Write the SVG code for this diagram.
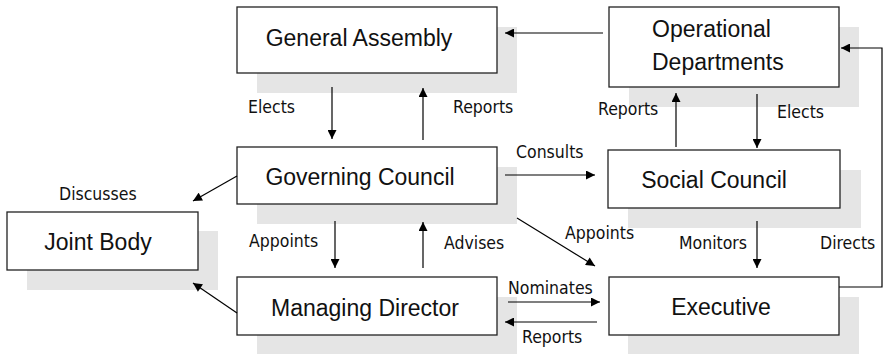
<svg xmlns="http://www.w3.org/2000/svg" width="888" height="354" viewBox="0 0 888 354">
<defs>
<marker id="ah" viewBox="0 0 10 10" refX="10" refY="5" markerWidth="10" markerHeight="9" markerUnits="userSpaceOnUse" orient="auto">
<path d="M0,0 L10,5 L0,10 z" fill="#000"/>
</marker>
</defs>
<style>
.sh{fill:#e5e5e5;stroke:none}
.bx{fill:#fff;stroke:#222;stroke-width:1.3}
.nt{font-family:"Liberation Sans",Arial,sans-serif;font-size:23px;fill:#111}
.lb{font-family:"DejaVu Sans Condensed","DejaVu Sans",sans-serif;font-size:17.5px;fill:#111}
.cn{fill:none;stroke:#000;stroke-width:1.2;marker-end:url(#ah)}
</style>
<rect width="888" height="354" fill="#fff"/>
<g id="general-assembly">
<rect class="sh" x="257" y="27" width="260" height="66"/>
<rect class="bx" x="237" y="7" width="260" height="66"/>
<text class="nt" x="359" y="46" text-anchor="middle">General Assembly</text>
</g>
<g id="operational-departments">
<rect class="sh" x="629" y="27" width="230" height="80"/>
<rect class="bx" x="609" y="7" width="230" height="80"/>
<text class="nt" x="652" y="37">Operational</text>
<text class="nt" x="652" y="70">Departments</text>
</g>
<g id="governing-council">
<rect class="sh" x="257" y="167" width="260" height="57"/>
<rect class="bx" x="237" y="147" width="260" height="57"/>
<text class="nt" x="360" y="185" text-anchor="middle">Governing Council</text>
</g>
<g id="social-council">
<rect class="sh" x="628" y="170" width="233" height="58"/>
<rect class="bx" x="608" y="150" width="232" height="58"/>
<text class="nt" x="714" y="188" text-anchor="middle">Social Council</text>
</g>
<g id="joint-body">
<rect class="sh" x="27" y="231" width="191" height="59"/>
<rect class="bx" x="7" y="212" width="191" height="58"/>
<text class="nt" x="98" y="250" text-anchor="middle">Joint Body</text>
</g>
<g id="managing-director">
<rect class="sh" x="257" y="297" width="260" height="60"/>
<rect class="bx" x="237" y="277" width="260" height="58"/>
<text class="nt" x="365" y="316" text-anchor="middle">Managing Director</text>
</g>
<g id="executive">
<rect class="sh" x="628" y="297" width="231" height="60"/>
<rect class="bx" x="609" y="277" width="230" height="58"/>
<text class="nt" x="721" y="315" text-anchor="middle">Executive</text>
</g>
<g id="connectors">
<line class="cn" x1="603" y1="33" x2="505" y2="33"/>
<polyline class="cn" points="839,287 882,287 882,48 841,48"/>
<line class="cn" x1="332" y1="87" x2="332" y2="139"/>
<line class="cn" x1="423" y1="140" x2="423" y2="88"/>
<line class="cn" x1="676" y1="147" x2="676" y2="93"/>
<line class="cn" x1="757" y1="94" x2="757" y2="148"/>
<line class="cn" x1="505" y1="175" x2="595" y2="175"/>
<line class="cn" x1="517" y1="218" x2="595" y2="266"/>
<line class="cn" x1="237" y1="176" x2="193" y2="201"/>
<line class="cn" x1="237" y1="313" x2="193" y2="283"/>
<line class="cn" x1="335" y1="221" x2="335" y2="268"/>
<line class="cn" x1="423" y1="268" x2="423" y2="222"/>
<line class="cn" x1="757" y1="221" x2="757" y2="268"/>
<line class="cn" x1="508" y1="302" x2="600" y2="302"/>
<line class="cn" x1="597" y1="322" x2="505" y2="322"/>
</g>
<g id="labels">
<text class="lb" x="248" y="113">Elects</text>
<text class="lb" x="453" y="113">Reports</text>
<text class="lb" x="598" y="115">Reports</text>
<text class="lb" x="777" y="118">Elects</text>
<text class="lb" x="516" y="158">Consults</text>
<text class="lb" x="59" y="200">Discusses</text>
<text class="lb" x="249" y="247">Appoints</text>
<text class="lb" x="444" y="249">Advises</text>
<text class="lb" x="565" y="239">Appoints</text>
<text class="lb" x="679" y="249">Monitors</text>
<text class="lb" x="820" y="249">Directs</text>
<text class="lb" x="508" y="294">Nominates</text>
<text class="lb" x="522" y="343">Reports</text>
</g>
</svg>
